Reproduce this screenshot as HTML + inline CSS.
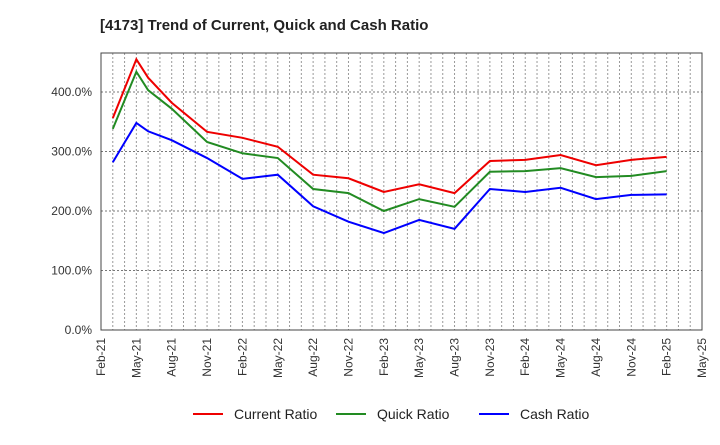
<!DOCTYPE html>
<html><head><meta charset="utf-8"><style>
body{margin:0;background:#fff;font-family:"Liberation Sans",sans-serif}
</style></head><body>
<svg id="c" width="720" height="440" xmlns="http://www.w3.org/2000/svg">
<text x="100" y="30" font-size="15" font-weight="bold" fill="#222">[4173]  Trend of Current, Quick and Cash Ratio</text>
<g id="grid"></g><g id="axes"></g><g id="series"></g>
<g>
<line x1="193" y1="414" x2="223" y2="414" stroke="#e00" stroke-width="2"/>
<text x="234" y="419" font-size="14" fill="#222">Current Ratio</text>
<line x1="336" y1="414" x2="366" y2="414" stroke="#228b22" stroke-width="2"/>
<text x="377" y="419" font-size="14" fill="#222">Quick Ratio</text>
<line x1="479" y1="414" x2="509" y2="414" stroke="#00f" stroke-width="2"/>
<text x="520" y="419" font-size="14" fill="#222">Cash Ratio</text>
</g>
</svg>
<script>
const months = [1,3,4,6,9,12,15,18,21,24,27,30,33,36,39,42,45,48];
const currentRatio = [356,455,424,382,333,323,308,261,255,232,245,230,284,286,294,277,286,291];
const quickRatio = [338,434,403,372,316,297,289,237,230,200,220,207,266,267,272,257,259,267];
const cashRatio = [282,348,334,319,289,254,261,208,182,163,185,170,237,232,239,220,227,228];
const yTicks = [0,100,200,300,400];
const xTickLabels = ["Feb-21","May-21","Aug-21","Nov-21","Feb-22","May-22","Aug-22","Nov-22","Feb-23","May-23","Aug-23","Nov-23","Feb-24","May-24","Aug-24","Nov-24","Feb-25","May-25"];
const L=101,R=702,T=53,B=330,NM=51;
const xs=m=>L+(R-L)*m/NM;
const ys=v=>B-v*(B-92)/400;
const NS="http://www.w3.org/2000/svg";
function mk(tag,attrs,parent){const e=document.createElementNS(NS,tag);for(const k in attrs)e.setAttribute(k,attrs[k]);parent.appendChild(e);return e;}
const grid=document.getElementById('grid'),axes=document.getElementById('axes'),ser=document.getElementById('series');
for(let m=1;m<NM;m++){const l=mk('line',{x1:xs(m),x2:xs(m),y1:T,y2:B,stroke:'#999','stroke-dasharray':'2,2','stroke-width':1},grid);

}
yTicks.forEach(v=>{if(v>0){const l=mk('line',{x1:L,x2:R,y1:ys(v),y2:ys(v),stroke:'#777','stroke-dasharray':'2,2','stroke-width':1},grid);

}
const t=mk('text',{x:L-9,y:ys(v)+4,'text-anchor':'end','font-size':12,fill:'#333'},axes);t.textContent=v.toFixed(1)+'%';

});
const fr=mk('rect',{x:L,y:T,width:R-L,height:B-T,fill:'none',stroke:'#444','stroke-width':1},axes);


xTickLabels.forEach((s,i)=>{const x=xs(i*3);const t=mk('text',{transform:`translate(${x+4},${B+8}) rotate(-90)`,'text-anchor':'end','font-size':12,fill:'#333'},axes);t.textContent=s;

});
[[currentRatio,'#e00','current-ratio-line'],[quickRatio,'#228b22','quick-ratio-line'],[cashRatio,'#00f','cash-ratio-line']].forEach(([d,c,n])=>{
const p=mk('polyline',{points:d.map((v,i)=>xs(months[i])+','+ys(v)).join(' '),fill:'none',stroke:c,'stroke-width':2},ser);

});
</script>
</body></html>
